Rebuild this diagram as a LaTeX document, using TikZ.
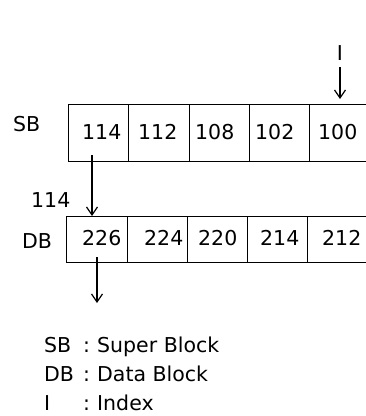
\documentclass[tikz,border=0pt]{standalone}
\usepackage{fontspec}
\setmainfont{DejaVu Sans}
\usetikzlibrary{arrows.meta}
\begin{document}
\begin{tikzpicture}[x=1pt,y=-1pt,
  cellsb/.style={draw, line width=1.2pt, minimum height=57pt, inner sep=0pt, anchor=north west},
  celldb/.style={draw, line width=1.2pt, minimum height=46pt, inner sep=0pt, anchor=north west},
  txt/.style={font=\fontsize{20.5}{24}\selectfont, inner sep=0pt, anchor=base west},
  arr/.style={line width=1.2pt, -{Straight Barb[length=8pt,width=11pt,line width=1.2pt]}}]
\useasboundingbox (0,0) rectangle (366,416);
\begin{scope}
\clip (0,0) rectangle (366,416);
% Super Block row
\node[cellsb, minimum width=60pt] (sb1) at (68,104) {};
\node[cellsb, minimum width=61pt] (sb2) at (128,104) {};
\node[cellsb, minimum width=60pt] (sb3) at (189,104) {};
\node[cellsb, minimum width=60pt] (sb4) at (249,104) {};
\node[cellsb, minimum width=62pt] (sb5) at (309,104) {};
% Data Block row
\node[celldb, minimum width=61pt] (db1) at (66,216) {};
\node[celldb, minimum width=60pt] (db2) at (127,216) {};
\node[celldb, minimum width=60pt] (db3) at (187,216) {};
\node[celldb, minimum width=60pt] (db4) at (247,216) {};
\node[celldb, minimum width=62pt] (db5) at (307,216) {};
\end{scope}
\node[txt] (t114) at (82,139) {114};
\node[txt] (t112) at (138,139) {112};
\node[txt] (t108) at (195,139) {108};
\node[txt] (t102) at (255,139) {102};
\node[txt] (t100) at (318,139) {100};
\node[txt] (t226) at (82,245) {226};
\node[txt] (t224) at (144,245) {224};
\node[txt] (t220) at (198,245) {220};
\node[txt] (t214) at (260,245) {214};
\node[txt] (t212) at (322,245) {212};
% labels
\node[txt] (lsb) at (13,131) {SB};
\node[txt] (ldb) at (22,248) {DB};
\node[txt] (l114) at (31,207) {114};
\node[txt, anchor=base] (lI) at (340,60) {I};
% arrows
\coordinate (a1) at (92,155);
\coordinate (a2) at (97,257);
\coordinate (a2e) at (97,303);
\draw[arr, shorten <=7pt, shorten >=5pt] (lI.south) -- (lI.south |- sb5.north);
\draw[arr] (a1) -- (a1 |- db1.north);
\draw[arr] (a2) -- (a2e);
% legend
\node[txt] (k1) at (44,352) {SB};
\node[txt] (c1) at (83,352) {:};
\node[txt] (d1) at (97,352) {Super Block};
\node[txt] (k2) at (44,381) {DB};
\node[txt] (c2) at (83,381) {:};
\node[txt] (d2) at (97,381) {Data Block};
\node[txt] (k3) at (44,410) {I};
\node[txt] (c3) at (83,410) {:};
\node[txt] (d3) at (97,410) {Index};
\end{tikzpicture}
\end{document}
